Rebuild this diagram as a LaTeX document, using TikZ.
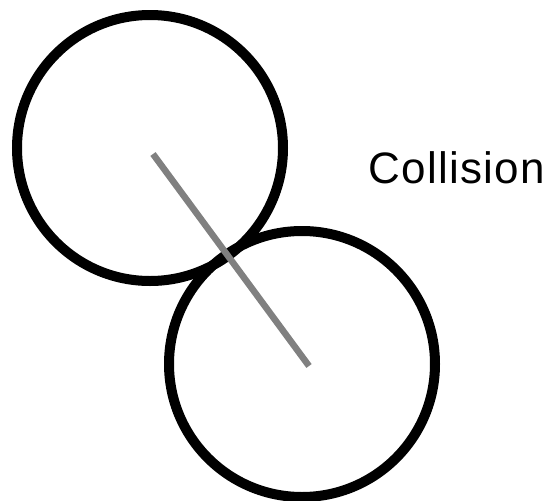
\documentclass[tikz,border=0pt]{standalone}
\usepackage{fontspec}
\setmainfont{Liberation Sans}
\newfontfamily\labelfont[LetterSpace=3]{Liberation Sans}
\begin{document}
\begin{tikzpicture}[x=1pt,y=-1pt,
  ball/.style={circle,draw=black,line width=10pt,minimum size=266pt,inner sep=0pt},
  link/.style={draw={rgb,255:red,128;green,128;blue,128},line width=6.5pt}]
\useasboundingbox (0,0) rectangle (555,501);
\node[ball] (b1) at (150,148) {};
\node[ball] (b2) at (302,364) {};
\coordinate (p1) at (153,154);
\coordinate (p2) at (309,366);
\draw[link] (p1) -- (p2);
\node[anchor=base west,inner sep=0pt,font=\labelfont\fontsize{44}{44}\selectfont] (t) at (368,183) {Collision};
\end{tikzpicture}
\end{document}
